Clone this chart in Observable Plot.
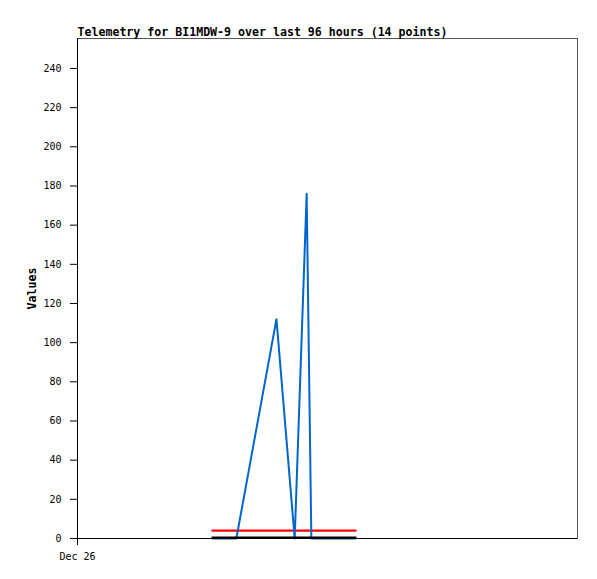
<!DOCTYPE html>
<html>
<head>
<meta charset="utf-8">
<script src="https://cdn.jsdelivr.net/npm/d3@7"></script>
<script src="https://cdn.jsdelivr.net/npm/@observablehq/plot@0.6"></script>
<style>
  html, body { margin: 0; padding: 0; background: #fff; }
  svg { display: block; }
</style>
</head>
<body>
<div id="chart"></div>
<script>
const titleText = "Telemetry for BI1MDW-9 over last 96 hours (14 points)";
const yLabel = "Values";
const startTime = "2023-12-26T00:00Z";
const endTime = "2023-12-30T00:00Z";
const xTickLabels = ["Dec 26"];
const times = [
  "2023-12-27T01:54Z", "2023-12-27T04:00Z", "2023-12-27T06:30Z", "2023-12-27T14:12Z",
  "2023-12-27T17:42Z", "2023-12-27T20:00Z", "2023-12-27T20:54Z", "2023-12-27T22:00Z",
  "2023-12-27T23:30Z", "2023-12-28T01:00Z", "2023-12-28T02:30Z", "2023-12-28T03:30Z",
  "2023-12-28T04:30Z", "2023-12-28T05:24Z"
];
const blueValues  = [0, 0, 0, 112, 0, 176, 0, 0, 0, 0, 0, 0, 0, 0];
const redValues   = [4, 4, 4, 4, 4, 4, 4, 4, 4, 4, 4, 4, 4, 4];
const blackValues = [0, 0, 0, 0, 0, 0, 0, 0, 0, 0, 0, 0, 0, 0];
const yTicks = [0, 20, 40, 60, 80, 100, 120, 140, 160, 180, 200, 220, 240];

const rows = times.map((t, i) => ({
  t: new Date(t), blue: blueValues[i], red: redValues[i], black: blackValues[i]
}));
const t0 = new Date(startTime);

const chart = Plot.plot({
  width: 597,
  height: 579,
  marginTop: 38,
  marginLeft: 77,
  marginRight: 20,
  marginBottom: 41,
  style: { fontFamily: "'DejaVu Sans Mono', monospace", fontSize: "10px", background: "#fff", color: "#000" },
  x: { type: "utc", domain: [t0, new Date(endTime)] },
  y: { domain: [0, 255.3] },
  marks: [
    Plot.frame({ stroke: "#555", strokeWidth: 1 }),
    Plot.axisY({
      ticks: yTicks, tickSize: 7, tickPadding: 9, label: null,
      stroke: "#000", fill: "#000", fontSize: 10
    }),
    Plot.axisX({
      ticks: [t0], tickFormat: (d, i) => xTickLabels[i], tickSize: 7, tickPadding: 7,
      label: null, stroke: "#000", fill: "#000", fontSize: 10
    }),
    Plot.line(rows, { x: "t", y: "red", stroke: "#ff0000", strokeWidth: 2.2 }),
    Plot.line(rows, { x: "t", y: "blue", stroke: "#0066cc", strokeWidth: 2, curve: "linear" }),
    Plot.line(rows, { x: "t", y: "black", stroke: "#000", strokeWidth: 2, dy: -1 }),
    Plot.ruleY([0], { stroke: "#000", strokeWidth: 1 }),
    Plot.ruleX([t0], { stroke: "#000", strokeWidth: 1 }),
    Plot.text([titleText], {
      frameAnchor: "top-left", text: d => d, textAnchor: "start", lineAnchor: "bottom",
      dy: -3, fontSize: 11.6, fontWeight: "bold", fill: "#000"
    }),
    Plot.text([yLabel], {
      frameAnchor: "left", text: d => d, rotate: -90, dx: -45, textAnchor: "middle",
      fontSize: 11.6, fontWeight: "bold", fill: "#000"
    })
  ]
});
document.getElementById("chart").appendChild(chart);
</script>
</body>
</html>
